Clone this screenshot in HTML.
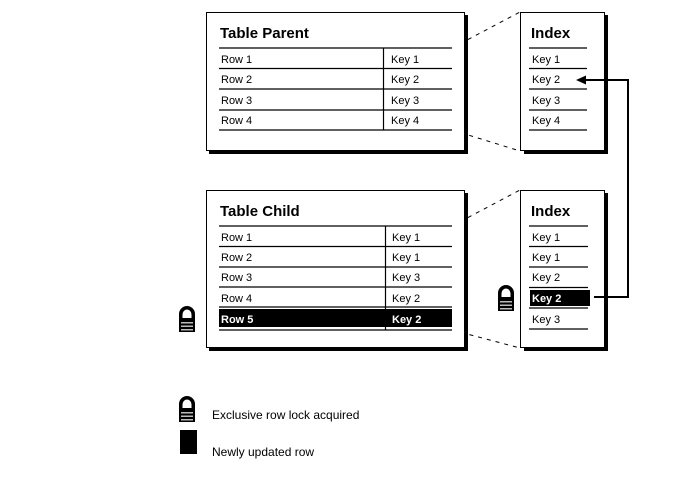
<!DOCTYPE html>
<html><head><meta charset="utf-8"><style>
html,body{margin:0;padding:0;background:#fff;width:688px;height:477px;overflow:hidden}
svg{display:block}
text{font-family:"Liberation Sans",Arial,sans-serif;fill:#000}
.t{font-size:15px;font-weight:bold}
.r{font-size:11px}
.l{font-size:12px}
.b{font-size:11px;font-weight:bold;fill:#fff}
</style></head><body>
<svg width="688" height="477" viewBox="0 0 688 477" xmlns="http://www.w3.org/2000/svg">
<defs>
<g id="lock">
  <path d="M0 13 V8 A8 8 0 0 1 16 8 V13 Z" fill="#000"/>
  <path d="M3.5 13 V8.5 A4.5 5 0 0 1 12.5 8.5 V13 Z" fill="#fff"/>
  <rect x="0" y="12" width="16" height="14" fill="#000"/>
  <rect x="2" y="16" width="12" height="1.5" fill="#bbb"/>
  <rect x="2" y="19.5" width="12" height="1.5" fill="#bbb"/>
  <rect x="2" y="23" width="12" height="1.5" fill="#bbb"/>
</g>
</defs>
<g stroke="#000" stroke-width="1" stroke-dasharray="4,5" fill="none">
<line x1="452" y1="48" x2="520" y2="12"/>
<line x1="452" y1="130" x2="520" y2="151"/>
<line x1="452" y1="226" x2="520" y2="190"/>
<line x1="452" y1="330" x2="520" y2="348"/>
</g>
<rect x="209" y="15" width="259" height="139" fill="#000"/>
<rect x="206.5" y="12.5" width="258" height="138" fill="#fff" stroke="#000"/>
<text class="t" x="220" y="38">Table Parent</text>
<g stroke="#000" stroke-width="1.2">
<line x1="219" y1="48" x2="452" y2="48"/><line x1="219" y1="68.5" x2="452" y2="68.5"/>
<line x1="219" y1="89" x2="452" y2="89"/><line x1="219" y1="110" x2="452" y2="110"/>
<line x1="219" y1="130" x2="452" y2="130"/><line x1="383.5" y1="48" x2="383.5" y2="130"/>
</g>
<text class="r" x="221" y="63">Row 1</text><text class="r" x="391" y="63">Key 1</text>
<text class="r" x="221" y="83">Row 2</text><text class="r" x="391" y="83">Key 2</text>
<text class="r" x="221" y="104">Row 3</text><text class="r" x="391" y="104">Key 3</text>
<text class="r" x="221" y="124">Row 4</text><text class="r" x="391" y="124">Key 4</text>
<rect x="524" y="15" width="84" height="139" fill="#000"/>
<rect x="520.5" y="12.5" width="84" height="138" fill="#fff" stroke="#000"/>
<text class="t" x="531" y="38">Index</text>
<g stroke="#000" stroke-width="1.2">
<line x1="529" y1="48" x2="587" y2="48"/><line x1="529" y1="68.5" x2="587" y2="68.5"/>
<line x1="529" y1="89" x2="587" y2="89"/><line x1="529" y1="110" x2="587" y2="110"/>
<line x1="529" y1="130" x2="587" y2="130"/>
</g>
<text class="r" x="532" y="63">Key 1</text><text class="r" x="532" y="83">Key 2</text>
<text class="r" x="532" y="104">Key 3</text><text class="r" x="532" y="124">Key 4</text>
<rect x="209" y="193" width="259" height="158" fill="#000"/>
<rect x="206.5" y="190.5" width="258" height="157" fill="#fff" stroke="#000"/>
<text class="t" x="220" y="216">Table Child</text>
<g stroke="#000" stroke-width="1.2">
<line x1="219" y1="226" x2="452" y2="226"/><line x1="219" y1="246.5" x2="452" y2="246.5"/>
<line x1="219" y1="267" x2="452" y2="267"/><line x1="219" y1="287" x2="452" y2="287"/>
<line x1="219" y1="307" x2="452" y2="307"/><line x1="219" y1="330" x2="452" y2="330"/>
<line x1="385.5" y1="226" x2="385.5" y2="330"/>
</g>
<rect x="219" y="309" width="233" height="18" fill="#000"/>
<text class="r" x="221" y="241">Row 1</text><text class="r" x="392" y="241">Key 1</text>
<text class="r" x="221" y="261">Row 2</text><text class="r" x="392" y="261">Key 1</text>
<text class="r" x="221" y="281">Row 3</text><text class="r" x="392" y="281">Key 3</text>
<text class="r" x="221" y="302">Row 4</text><text class="r" x="392" y="302">Key 2</text>
<text class="b" x="221" y="323">Row 5</text><text class="b" x="392" y="323">Key 2</text>
<rect x="524" y="193" width="84" height="158" fill="#000"/>
<rect x="520.5" y="190.5" width="84" height="157" fill="#fff" stroke="#000"/>
<text class="t" x="531" y="216">Index</text>
<g stroke="#000" stroke-width="1.2">
<line x1="529" y1="226" x2="588" y2="226"/><line x1="529" y1="246.5" x2="588" y2="246.5"/>
<line x1="529" y1="267" x2="588" y2="267"/><line x1="529" y1="287.5" x2="588" y2="287.5"/>
<line x1="529" y1="308" x2="588" y2="308"/><line x1="529" y1="329" x2="588" y2="329"/>
</g>
<rect x="530" y="290" width="60" height="16" fill="#000"/>
<text class="r" x="532" y="241">Key 1</text><text class="r" x="532" y="261">Key 1</text>
<text class="r" x="532" y="281">Key 2</text><text class="b" x="532" y="302">Key 2</text>
<text class="r" x="532" y="323">Key 3</text>
<polyline points="594,297 628,297 628,80 584,80" fill="none" stroke="#000" stroke-width="2"/>
<polygon points="576,80 586,75.5 586,84.5" fill="#000"/>
<use href="#lock" x="179" y="306"/>
<use href="#lock" x="498" y="285"/>
<use href="#lock" x="179" y="396"/>
<rect x="180" y="430" width="17" height="24" fill="#000"/>
<text class="l" x="212" y="419">Exclusive row lock acquired</text>
<text class="l" x="212" y="456">Newly updated row</text>
</svg>
</body></html>
